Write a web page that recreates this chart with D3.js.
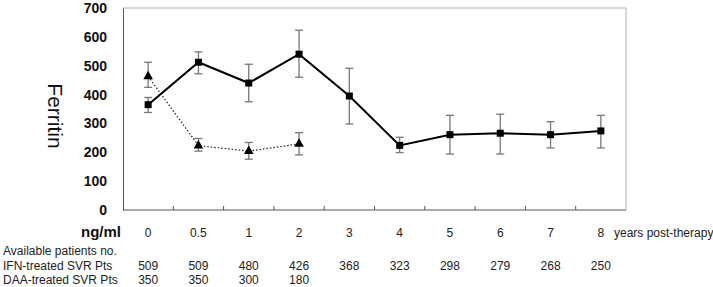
<!DOCTYPE html>
<html><head><meta charset="utf-8">
<script src="https://cdn.jsdelivr.net/npm/d3@7/dist/d3.min.js"></script>
<style>body{margin:0;background:#fff}svg{display:block;font-family:"Liberation Sans",Arial,sans-serif}</style>
</head><body><svg id="c" width="713" height="287"></svg>
<script>
const categories = ["0","0.5","1","2","3","4","5","6","7","8"];
const ifnMean = [365,512,440,540,395,224,261,266,261,274];
const ifnUpper = [390,548,505,623,491,252,328,332,306,328];
const ifnLower = [338,472,375,460,298,199,194,194,215,215];
const daaMean = [463,223,204,229];
const daaUpper = [512,248,234,268];
const daaLower = [425,204,176,191];
const yTicks = [0,100,200,300,400,500,600,700];
const ifnCounts = ["509","509","480","426","368","323","298","279","268","250"];
const daaCounts = ["350","350","300","180"];

const svg = d3.select("#c");
const L = 123, R = 626, T = 8, B = 210;
const x = d3.scaleBand().domain(categories).range([L, R]);
const y = d3.scaleLinear().domain([0, 700]).range([B, T]);
const cx = c => x(c) + x.bandwidth() / 2;

// frame top/right
svg.append("path").attr("d", `M${L},${T}H${R}V${B}`).attr("fill", "none").attr("stroke", "#b0b0b0").attr("stroke-width", 1);
// bottom axis with inner ticks at band boundaries
const bx = svg.append("g");
bx.append("line").attr("x1", L).attr("x2", R).attr("y1", B).attr("y2", B).attr("stroke", "#555");
bx.selectAll("line.t").data(categories.slice(1)).join("line").attr("class", "t")
  .attr("x1", d => x(d)).attr("x2", d => x(d)).attr("y1", B).attr("y2", B - 4).attr("stroke", "#555");
// left axis
const yAxis = d3.axisLeft(y).tickValues(yTicks).tickSize(0).tickPadding(16);
const gy = svg.append("g").attr("transform", `translate(${L},0)`).call(yAxis);
gy.select(".domain").attr("stroke", "#555");
gy.selectAll("text").attr("font-size", 14).attr("font-weight", "bold").attr("fill", "#111")
  .attr("font-family", "Liberation Sans, Arial, sans-serif");

// Ferritin label
svg.append("text").attr("transform", "translate(48,116) rotate(90)").attr("text-anchor", "middle")
  .attr("font-size", 21).attr("fill", "#111").text("Ferritin");

// error bars
function errBars(means, up, lo) {
  const g = svg.append("g").attr("stroke", "#777").attr("stroke-width", 1.3);
  means.forEach((m, i) => {
    const c = cx(categories[i]);
    g.append("line").attr("x1", c).attr("x2", c).attr("y1", y(up[i])).attr("y2", y(lo[i]));
    g.append("line").attr("x1", c - 4).attr("x2", c + 4).attr("y1", y(up[i])).attr("y2", y(up[i]));
    g.append("line").attr("x1", c - 4).attr("x2", c + 4).attr("y1", y(lo[i])).attr("y2", y(lo[i]));
  });
}
errBars(ifnMean, ifnUpper, ifnLower);
errBars(daaMean, daaUpper, daaLower);

const line = d3.line().x((d, i) => cx(categories[i])).y(d => y(d));
svg.append("path").attr("d", line(daaMean)).attr("fill", "none").attr("stroke", "#222")
  .attr("stroke-width", 1.2).attr("stroke-dasharray", "1.5,2");
svg.append("path").attr("d", line(ifnMean)).attr("fill", "none").attr("stroke", "#000").attr("stroke-width", 2);

svg.append("g").selectAll("path").data(daaMean).join("path")
  .attr("d", d3.symbol(d3.symbolTriangle, 40)())
  .attr("transform", (d, i) => `translate(${cx(categories[i])},${y(d)})`).attr("fill", "#000");
svg.append("g").selectAll("rect").data(ifnMean).join("rect")
  .attr("x", (d, i) => cx(categories[i]) - 3.5).attr("y", d => y(d) - 3.5)
  .attr("width", 7).attr("height", 7).attr("fill", "#000");

// x labels
svg.append("text").attr("x", 121).attr("y", 237).attr("text-anchor", "end").attr("font-size", 15)
  .attr("font-weight", "bold").attr("fill", "#111").text("ng/ml");
svg.append("g").selectAll("text").data(categories).join("text")
  .attr("x", d => cx(d)).attr("y", 237).attr("text-anchor", "middle").attr("font-size", 12).attr("fill", "#222").text(d => d);
svg.append("text").attr("x", 614).attr("y", 237).attr("font-size", 12).attr("fill", "#222").text("years post-therapy");

// table
const tf = 12;
svg.append("text").attr("x", 3).attr("y", 255).attr("font-size", tf).attr("fill", "#222").text("Available patients no.");
svg.append("text").attr("x", 3).attr("y", 269.5).attr("font-size", tf).attr("fill", "#222").text("IFN-treated SVR Pts");
svg.append("text").attr("x", 3).attr("y", 283.5).attr("font-size", tf).attr("fill", "#222").text("DAA-treated SVR Pts");
svg.append("g").selectAll("text").data(ifnCounts).join("text")
  .attr("x", (d, i) => cx(categories[i])).attr("y", 269.5).attr("text-anchor", "middle").attr("font-size", tf).attr("fill", "#222").text(d => d);
svg.append("g").selectAll("text").data(daaCounts).join("text")
  .attr("x", (d, i) => cx(categories[i])).attr("y", 283.5).attr("text-anchor", "middle").attr("font-size", tf).attr("fill", "#222").text(d => d);
</script></body></html>
